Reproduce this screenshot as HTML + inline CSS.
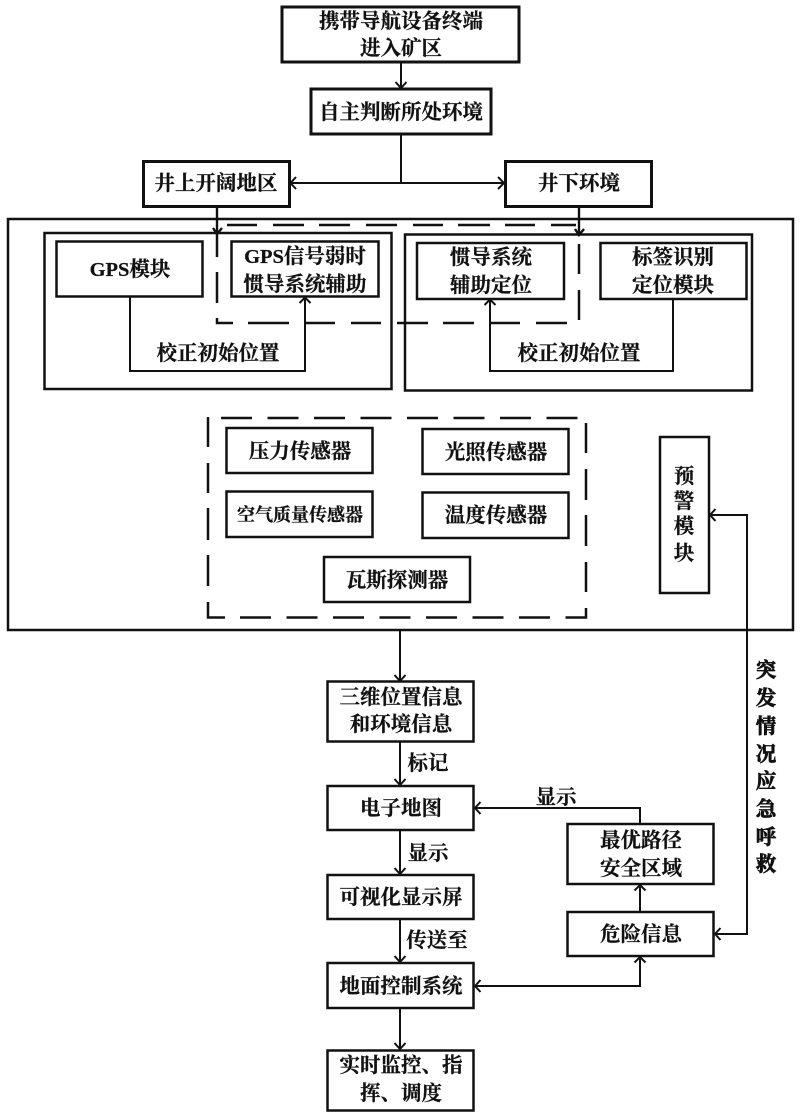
<!DOCTYPE html>
<html><head><meta charset="utf-8">
<style>
html,body{margin:0;padding:0;background:#fff}
svg{display:block}
text{font-family:"Liberation Serif","Noto Serif CJK SC",serif;font-weight:700;font-size:20.5px;fill:#111;stroke:#111;stroke-width:.25;text-anchor:middle}
text.v{stroke-width:.7}
rect{fill:none;stroke:#111}
.b3{stroke-width:3}
.b25{stroke-width:2.5}
path{fill:none;stroke:#111;stroke-width:2}
.a{stroke-width:2.4}
.d{stroke-width:2.5}
</style></head><body>
<svg width="800" height="1120" viewBox="0 0 800 1120" xmlns="http://www.w3.org/2000/svg">
<rect x="0" y="0" width="800" height="1120" style="fill:#fff;stroke:none"/>
<!-- boxes -->
<rect class="b3" x="282" y="7" width="237" height="55"/>
<rect class="b3" x="311" y="89" width="180" height="45"/>
<rect class="b3" x="143.500" y="161.500" width="146" height="45"/>
<rect class="b3" x="505.500" y="161.500" width="146" height="45"/>
<rect class="b25" x="8" y="219" width="785" height="411"/>
<rect class="b25" x="44.500" y="233" width="347" height="156"/>
<rect class="b25" x="405" y="234.500" width="347" height="156"/>
<rect class="b25" x="56.500" y="241.500" width="146" height="55"/>
<rect class="b25" x="231.500" y="241.500" width="147" height="55"/>
<rect class="b25" x="417" y="243" width="147" height="56"/>
<rect class="b25" x="600.500" y="243" width="146" height="56"/>
<!-- dashed upper -->
<path class="d" d="M227 225H257M273 225H304M319 225H350M366 225H397M413 225H443M458 225H490M505 225H535M551 225H576"/>
<path class="d" d="M579 244V274M579 290V320"/>
<path class="d" d="M233 323H217V318M248 323H289M305 323H335M351 323H381M397 323H428M443 323H474M491 323H520M536 323H567"/>
<path class="d" d="M217 303V272M217 257V235"/>
<path d="M217 207V235" class="a"/>
<path d="M579 207V235" class="a"/>
<path d="M213 228L217 234L222 228M575 229L579 235L584 229" class="a"/>
<!-- dashed sensors -->
<path class="d" d="M221 418H252M267.500 418H298.500M314 418H345M360.500 418H391.500M407 418H438M453.500 418H484.500M500 418H531M546.500 418H577.500"/>
<path class="d" d="M586 423V453M586 469V500M586 515V546M586 562V592M586 608V617.500H565.500"/>
<path class="d" d="M550 617.500H519M503.500 617.500H472.500M457 617.500H426M410.500 617.500H379.500M364 617.500H333M317.500 617.500H286.500M271 617.500H240M225 617.500H208V602"/>
<path class="d" d="M208 586V555M208 540V508M208 493V463M208 447V417"/>
<rect class="b25" x="226.500" y="428" width="146" height="45"/>
<rect class="b25" x="422.500" y="429" width="146" height="45"/>
<rect class="b25" x="226.500" y="491.500" width="146" height="45.500"/>
<rect class="b25" x="422.500" y="492.500" width="146" height="45.500"/>
<rect class="b25" x="324" y="557" width="146" height="45"/>
<rect class="b25" x="660" y="437" width="49" height="156"/>
<rect class="b25" x="327.500" y="681.500" width="146" height="60"/>
<rect class="b25" x="327.500" y="786" width="146" height="44"/>
<rect class="b25" x="327.500" y="875" width="146" height="44"/>
<rect class="b25" x="327.500" y="963" width="146" height="45"/>
<rect class="b25" x="327.500" y="1050.500" width="146" height="60"/>
<rect class="b25" x="567.500" y="824" width="146" height="60"/>
<rect class="b25" x="567.500" y="912" width="146" height="44"/>
<!-- connectors -->
<path d="M401 62V88M395.500 82L401 88L406.500 82"/>
<path d="M401 134V183"/>
<path d="M291 183H503M296 177L290.500 183L296 189M498 177L504 183L498 189"/>
<path d="M130 297V371H305V298M299.500 303L305 297.500L310.500 303"/>
<path d="M673 299V371H490V300M484.500 305L490 299.500L495.500 305"/>
<path d="M400 630V681M394.500 675L400 681L405.500 675"/>
<path d="M400 742V785M394.500 779L400 785L405.500 779"/>
<path d="M400 830V874M394.500 868L400 874L405.500 868"/>
<path d="M400 919V962M394.500 956L400 962L405.500 956"/>
<path d="M400 1008V1049M394.500 1043L400 1049L405.500 1043"/>
<path d="M475 808H640V824M480.500 802L475 808L480.500 814"/>
<path d="M640 912V885M634.500 890.500L640 885L645.500 890.500"/>
<path d="M475 986H640V957M480.500 980L475 986L480.500 992M634.500 962.500L640 957L645.500 962.500"/>
<path d="M715 934H747V515H710M720.500 928L715 934L720.500 940M715.500 509L710 515L715.500 521"/>
<!-- text -->
<text x="401" y="28">携带导航设备终端</text>
<text x="401" y="55">进入矿区</text>
<text x="401" y="119">自主判断所处环境</text>
<text x="216" y="190">井上开阔地区</text>
<text x="579" y="190">井下环境</text>
<text x="130" y="276">GPS模块</text>
<text x="305" y="263">GPS信号弱时</text>
<text x="305" y="291">惯导系统辅助</text>
<text x="491" y="264">惯导系统</text>
<text x="491" y="292">辅助定位</text>
<text x="673" y="264">标签识别</text>
<text x="673" y="292">定位模块</text>
<text x="218" y="360">校正初始位置</text>
<text x="579" y="360">校正初始位置</text>
<text x="300" y="458">压力传感器</text>
<text x="496" y="459">光照传感器</text>
<text x="300" y="521" style="font-size:18px">空气质量传感器</text>
<text x="496" y="522">温度传感器</text>
<text x="397" y="587">瓦斯探测器</text>
<text x="684" y="483">预</text><text x="684" y="508">警</text><text x="684" y="533">模</text><text x="684" y="560">块</text>
<text x="401" y="704">三维位置信息</text>
<text x="401" y="731">和环境信息</text>
<text x="428" y="770">标记</text>
<text x="401" y="815">电子地图</text>
<text x="428" y="860">显示</text>
<text x="401" y="904">可视化显示屏</text>
<text x="437" y="947">传送至</text>
<text x="401" y="993">地面控制系统</text>
<text x="401" y="1072">实时监控、指</text>
<text x="401" y="1100">挥、调度</text>
<text x="556" y="804">显示</text>
<text x="641" y="847">最优路径</text>
<text x="641" y="875">安全区域</text>
<text x="641" y="941">危险信息</text>
<text class="v" x="766" y="677">突</text><text class="v" x="766" y="705">发</text><text class="v" x="766" y="733">情</text><text class="v" x="766" y="761">况</text><text class="v" x="766" y="788">应</text><text class="v" x="766" y="816">急</text><text class="v" x="766" y="844">呼</text><text class="v" x="766" y="871">救</text>
</svg>
</body></html>
